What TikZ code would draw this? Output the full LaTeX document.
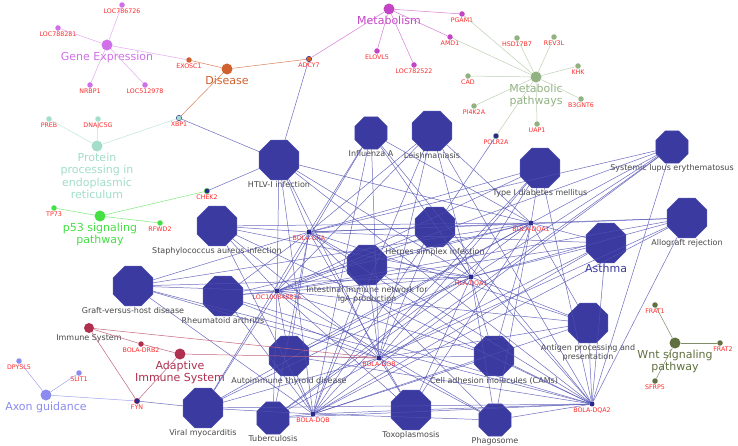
\documentclass[tikz,border=0pt]{standalone}
\usepackage{fontspec}
\setmainfont{DejaVu Sans}
\usetikzlibrary{shapes.geometric}

\definecolor{pwblue}{HTML}{3A3AA0}
\definecolor{pwedge}{HTML}{5252B4}
\definecolor{genenavy}{HTML}{2A2A8C}
\definecolor{genered}{HTML}{FF2A2A}
\definecolor{labgray}{HTML}{484848}
\definecolor{gexp}{HTML}{D070E8}
\definecolor{dis}{HTML}{D0602E}
\definecolor{metab}{HTML}{C445C4}
\definecolor{metpw}{HTML}{92B282}
\definecolor{ppe}{HTML}{A2DEC8}
\definecolor{psf}{HTML}{44E044}
\definecolor{imsys}{HTML}{B03050}
\definecolor{axon}{HTML}{8C8CF0}
\definecolor{wnt}{HTML}{607040}

\tikzset{
  pw/.style={regular polygon,regular polygon sides=8,minimum size=43pt,inner sep=0pt,
    fill=pwblue,draw=pwedge,line width=.5pt,label distance=0pt},
  pwsmall/.style={pw,minimum size=35pt},
  plab/.style={text=labgray,font=\fontsize{8}{9.5}\selectfont,inner sep=1pt,align=center},
  gene/.style={circle,fill=genenavy,inner sep=0pt,minimum size=5pt,label distance=0pt},
  glab/.style={text=genered,font=\fontsize{6.3}{7}\selectfont,inner sep=.8pt},
  hub/.style={circle,inner sep=0pt,minimum size=11pt,label distance=0pt},
  leaf/.style={circle,inner sep=0pt,minimum size=5.5pt,label distance=0pt},
  hlab/.style={font=\fontsize{11}{12.5}\selectfont,inner sep=1pt,align=center},
  net/.style={draw=pwedge,line width=.5pt,draw opacity=.85},
  link/.style={line width=.5pt},
}

\begin{document}
\begin{tikzpicture}[x=1pt,y=-1pt]
\useasboundingbox[fill=white] (0,0) rectangle (738,446);

% pathway terms
\node[pw,label={[plab]below:HTLV-I infection}] (htlv) at (279,160) {};
\node[pwsmall,label={[plab]below:Influenza A}] (flu) at (371,133) {};
\node[pw,label={[plab]below:Leishmaniasis}] (leish) at (432,131) {};
\node[pw,label={[plab]below:Type I diabetes mellitus}] (tdm) at (540,168) {};
\node[pwsmall,label={[plab]below:Systemic lupus erythematosus}] (sle) at (672,147) {};
\node[pw,label={[plab]below:Allograft rejection}] (allo) at (687,218) {};
\node[pw,label={[plab,text=pwblue,font=\fontsize{11}{12.5}\selectfont]below:Asthma}] (asthma) at (606,243) {};
\node[pw,label={[plab]below:Herpes simplex infection}] (herpes) at (435,227) {};
\node[pw,label={[plab]below:Staphylococcus aureus infection}] (staph) at (217,226) {};
\node[pw,label={[plab]below:{Intestinal immune network for\\IgA production}}] (iga) at (367,265) {};
\node[pw,label={[plab]below:Graft-versus-host disease}] (gvhd) at (133,286) {};
\node[pw,label={[plab]below:Rheumatoid arthritis}] (ra) at (223,296) {};
\node[pw,label={[plab]below:Autoimmune thyroid disease}] (aitd) at (289,356) {};
\node[pw,label={[plab]below:Cell adhesion molecules (CAMs)}] (cams) at (494,356) {};
\node[pw,label={[plab]below:{Antigen processing and\\presentation}}] (apc) at (588,323) {};
\node[pw,label={[plab]below:Viral myocarditis}] (vmc) at (203,408) {};
\node[pwsmall,label={[plab]below:Tuberculosis}] (tb) at (273,418) {};
\node[pw,label={[plab]below:Toxoplasmosis}] (toxo) at (411,410) {};
\node[pwsmall,label={[plab]below:Phagosome}] (phago) at (495,420) {};

% shared genes
\node[gene,label={[glab]below:BOLA-DRA}] (dra) at (309,232) {};
\node[gene,label={[glab]below:BOLA-DQA1}] (dqaone) at (531,223) {};
\node[gene,label={[glab]below:HLA-DQA1}] (hladqa) at (471,277) {};
\node[gene,label={[glab]below:LOC100848815}] (loc) at (277,291) {};
\node[gene,label={[glab]below:BOLA-DOB}] (dob) at (379,358) {};
\node[gene,label={[glab]below:BOLA-DQB}] (dqb) at (313,414) {};
\node[gene,label={[glab]below:BOLA-DQA2}] (dqatwo) at (592,404) {};

% group hubs
\node[hub,fill=gexp,label={[hlab,text=gexp]below:Gene Expression}] (gexp) at (107,45) {};
\node[hub,fill=dis,label={[hlab,text=dis]below:Disease}] (dis) at (227,69) {};
\node[hub,fill=metab,label={[hlab,text=metab]below:Metabolism}] (metab) at (389,9) {};
\node[hub,fill=metpw,label={[hlab,text=metpw]below:{Metabolic\\pathways}}] (metpw) at (536,77) {};
\node[hub,fill=ppe,label={[hlab,text=ppe]below:{Protein\\processing in\\endoplasmic\\reticulum}}] (ppe) at (97,146) {};
\node[hub,fill=psf,label={[hlab,text=psf]below:{p53 signaling\\pathway}}] (psf) at (100,216) {};
\node[hub,fill=imsys,minimum size=10pt,label={[plab]below:Immune System}] (imsys) at (89,328) {};
\node[hub,fill=imsys,label={[hlab,text=imsys]below:{Adaptive\\Immune System}}] (adapt) at (180,354) {};
\node[hub,fill=axon,label={[hlab,text=axon]below:Axon guidance}] (axon) at (46,395) {};
\node[hub,fill=wnt,label={[hlab,text=wnt]below:{Wnt signaling\\pathway}}] (wnt) at (675,343) {};

% member genes
\node[leaf,fill=gexp,label={[glab]below:LOC786726}] (lca) at (122,5) {};
\node[leaf,fill=gexp,label={[glab]below:LOC788281}] (lcb) at (58,28) {};
\node[leaf,fill=gexp,label={[glab]below:NRBP1}] (nrbp) at (90,85) {};
\node[leaf,fill=gexp,label={[glab]below:LOC512978}] (lcc) at (145,85) {};
\node[leaf,fill=dis,label={[glab]below:EXOSC1}] (exosc) at (189,60) {};
\node[leaf,fill=dis,draw=genenavy,label={[glab]below:ADCY7}] (adcy) at (309,59) {};
\node[leaf,fill=ppe,draw=genenavy,label={[glab]below:XBP1}] (xbp) at (179,118) {};
\node[leaf,fill=metab,label={[glab]below:PGAM1}] (pgam) at (462,14) {};
\node[leaf,fill=metab,label={[glab]below:AMD1}] (amd) at (450,37) {};
\node[leaf,fill=metab,label={[glab]below:ELOVL5}] (elovl) at (377,51) {};
\node[leaf,fill=metab,label={[glab]below:LOC782522}] (lcd) at (414,65) {};
\node[leaf,fill=metpw,label={[glab]below:HSD17B7}] (hsd) at (517,38) {};
\node[leaf,fill=metpw,label={[glab]below:REV3L}] (rev) at (554,37) {};
\node[leaf,fill=metpw,label={[glab]below:KHK}] (khk) at (578,66) {};
\node[leaf,fill=metpw,label={[glab]below:CAD}] (cad) at (468,76) {};
\node[leaf,fill=metpw,label={[glab]below:B3GNT6}] (bgnt) at (581,99) {};
\node[leaf,fill=metpw,label={[glab]below:PI4K2A}] (pik) at (474,106) {};
\node[leaf,fill=metpw,label={[glab]below:UAP1}] (uap) at (537,124) {};
\node[leaf,fill=genenavy,draw=metpw,label={[glab]below:POLR2A}] (polr) at (496,136) {};
\node[leaf,fill=ppe,label={[glab]below:PREB}] (preb) at (49,119) {};
\node[leaf,fill=ppe,label={[glab]below:DNAJC5G}] (dnaj) at (98,119) {};
\node[leaf,fill=psf,label={[glab]below:TP73}] (tp) at (54,208) {};
\node[leaf,fill=psf,label={[glab]below:RFWD2}] (rfwd) at (160,223) {};
\node[leaf,fill=genenavy,draw=psf,label={[glab]below:CHEK2}] (chek) at (207,191) {};
\node[leaf,fill=imsys,label={[glab]below:BOLA-DRB2}] (drbtwo) at (141,344) {};
\node[leaf,fill=genenavy,draw=imsys,label={[glab]below:FYN}] (fyn) at (137,401) {};
\node[leaf,fill=axon,label={[glab]below:DPYSL5}] (dpysl) at (19,361) {};
\node[leaf,fill=axon,label={[glab]below:SLIT1}] (slit) at (79,373) {};
\node[leaf,fill=wnt,label={[glab]below:FRAT1}] (fratone) at (655,305) {};
\node[leaf,fill=wnt,label={[glab,xshift=3pt]below:FRAT2}] (frattwo) at (720,343) {};
\node[leaf,fill=wnt,label={[glab]below:SFRP5}] (sfrp) at (655,381) {};

% pathway network
\foreach \p in {htlv,flu,leish,tdm,sle,allo,asthma,herpes,staph,iga,gvhd,ra,aitd,cams,apc,vmc,tb,toxo,phago}
  \foreach \g in {dra,dqaone,hladqa,loc,dob,dqb,dqatwo}
    \draw[net] (\p) -- (\g);
\foreach \g in {adcy,xbp,chek}
  \draw[net] (htlv) -- (\g);
\draw[net] (polr) -- (herpes);
\draw[net] (fyn) -- (vmc);

% groups
\foreach \g in {lca,lcb,nrbp,lcc,exosc}
  \draw[link,draw=gexp!60] (gexp) -- (\g);
\foreach \g in {exosc,adcy,xbp}
  \draw[link,draw=dis!80] (dis) -- (\g);
\foreach \g in {pgam,amd,elovl,lcd,adcy}
  \draw[link,draw=metab!70] (metab) -- (\g);
\foreach \g in {pgam,amd,hsd,rev,khk,cad,bgnt,pik,uap,polr}
  \draw[link,draw=metpw!60] (metpw) -- (\g);
\foreach \g in {preb,dnaj,xbp}
  \draw[link,draw=ppe!70] (ppe) -- (\g);
\foreach \g in {tp,rfwd,chek}
  \draw[link,draw=psf!70] (psf) -- (\g);
\foreach \g in {drbtwo,fyn,dob}
  \draw[link,draw=imsys!75] (imsys) -- (\g);
\foreach \g in {drbtwo,fyn,dob}
  \draw[link,draw=imsys!75] (adapt) -- (\g);
\foreach \g in {dpysl,slit,fyn}
  \draw[link,draw=axon!80] (axon) -- (\g);
\foreach \g in {fratone,frattwo,sfrp}
  \draw[link,draw=wnt!80] (wnt) -- (\g);
\end{tikzpicture}
\end{document}
